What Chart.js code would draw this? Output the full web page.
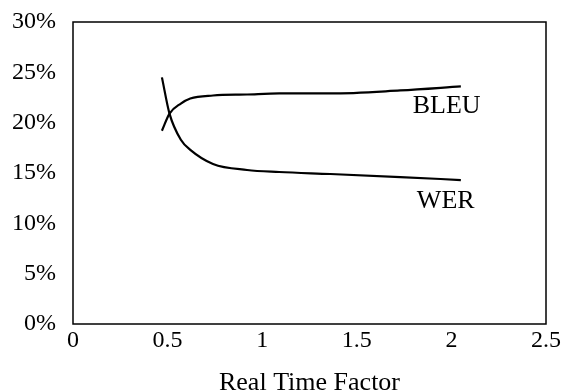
<!DOCTYPE html>
<html><head><meta charset="utf-8">
<script src="https://cdn.jsdelivr.net/npm/chart.js@4/dist/chart.umd.min.js"></script>
<style>html,body{margin:0;padding:0;background:#fff}#wrap{width:561px;height:392px}</style>
</head><body><div id="wrap"><canvas id="c" width="561" height="392"></canvas></div>
<script>
const rtf = [0.47, 0.51, 0.57, 0.62, 0.74, 0.92, 1.09, 1.36, 1.73, 2.05];
const bleu = [19.2, 20.9, 21.9, 22.4, 22.7, 22.8, 22.9, 22.9, 23.2, 23.6];
const wer = [24.5, 20.9, 18.3, 17.3, 15.9, 15.3, 15.1, 14.9, 14.6, 14.3];
const seriesNames = ['BLEU', 'WER'];
const xTicks = [0, 0.5, 1, 1.5, 2, 2.5];
const yTicks = [0, 5, 10, 15, 20, 25, 30];
const xTitle = 'Real Time Factor';
const FONT = '"Liberation Serif", "Times New Roman", serif';

const toPts = ys => rtf.map((x, i) => ({x, y: ys[i]}));

const boxPlugin = {
  id: 'box',
  afterDraw(chart) {
    const {ctx, chartArea: a, scales} = chart;
    ctx.save();
    ctx.strokeStyle = '#000';
    ctx.lineWidth = 1.5;
    ctx.strokeRect(a.left, a.top, a.right - a.left, a.bottom - a.top);
    ctx.fillStyle = '#000';
    ctx.font = '26px ' + FONT;
    ctx.textAlign = 'center';
    ctx.textBaseline = 'middle';
    ctx.fillText(seriesNames[0], scales.x.getPixelForValue(1.975), scales.y.getPixelForValue(21.6));
    ctx.fillText(seriesNames[1], scales.x.getPixelForValue(1.97), scales.y.getPixelForValue(12.2));
    ctx.restore();
  }
};

new Chart(document.getElementById('c'), {
  type: 'scatter',
  data: {
    datasets: [
      {label: seriesNames[0], data: toPts(bleu), showLine: true, borderColor: '#000', borderWidth: 2.2, pointRadius: 0, cubicInterpolationMode: 'monotone'},
      {label: seriesNames[1], data: toPts(wer), showLine: true, borderColor: '#000', borderWidth: 2.2, pointRadius: 0, cubicInterpolationMode: 'monotone'}
    ]
  },
  options: {
    responsive: false,
    animation: false,
    layout: {padding: {top: 22, right: 15, left: 0, bottom: 0}},
    plugins: {legend: {display: false}, tooltip: {enabled: false}},
    scales: {
      x: {
        type: 'linear', min: 0, max: 2.5,
        afterBuildTicks: s => { s.ticks = xTicks.map(v => ({value: v})); },
        afterFit: s => { s.height = 68; s.paddingLeft = 0; s.paddingRight = 0; },
        grid: {display: false, drawTicks: false},
        border: {display: false},
        ticks: {color: '#000', font: {family: FONT, size: 24}, padding: 2, maxRotation: 0, callback: v => String(v)},
        title: {display: true, text: xTitle, color: '#000', font: {family: FONT, size: 26, lineHeight: 0.7}, padding: {top: 0, bottom: 0}}
      },
      y: {
        type: 'linear', min: 0, max: 30,
        afterBuildTicks: s => { s.ticks = yTicks.map(v => ({value: v})); },
        afterFit: s => { s.width = 73; s.paddingTop = 0; s.paddingBottom = 0; },
        grid: {display: false, drawTicks: false},
        border: {display: false},
        ticks: {color: '#000', font: {family: FONT, size: 24}, padding: 17, callback: v => v + '%'}
      }
    }
  },
  plugins: [boxPlugin]
});
</script></body></html>
